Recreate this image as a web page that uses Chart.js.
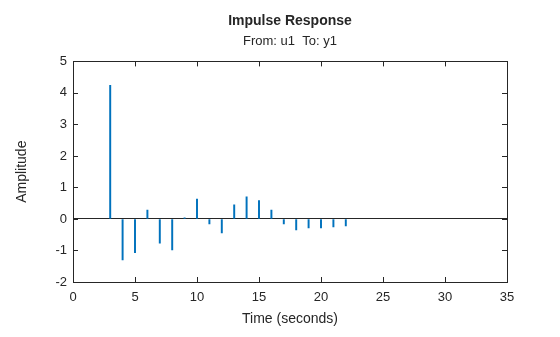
<!DOCTYPE html>
<html>
<head>
<meta charset="utf-8">
<title>Impulse Response</title>
<script src="https://cdn.jsdelivr.net/npm/chart.js@4"></script>
<style>
    html, body { margin: 0; padding: 0; background: #fff; }
    #wrap { width: 560px; height: 337px; }
</style>
</head>
<body>
<div id="wrap"><canvas id="impulse-chart"></canvas></div>
<script>
// ============================================
// DATA
// ============================================

const sampleTimes = [3, 4, 5, 6, 7, 8, 9, 10, 11, 12, 13, 14, 15, 16, 17, 18, 19, 20, 21, 22];
const amplitudes = [4.24, -1.30, -1.07, 0.28, -0.77, -0.98, 0.04, 0.63, -0.16, -0.44,
                    0.45, 0.70, 0.58, 0.28, -0.16, -0.35, -0.28, -0.28, -0.25, -0.22];

const xTicks = [0, 5, 10, 15, 20, 25, 30, 35];
const yTicks = [-2, -1, 0, 1, 2, 3, 4, 5];

const AXIS_COLOR = '#262626';
const STEM_COLOR = '#0072bd';
const FONT = '"Liberation Sans", Arial, sans-serif';

// ============================================
// PLUGINS
// ============================================

// center title + subtitle over the plot area instead of the whole canvas
const centerTitles = {
    id: 'centerTitles',
    afterLayout(chart) {
        const a = chart.chartArea;
        chart.boxes.forEach(b => {
            if (b.position === 'top' && b.options && b.options.text !== undefined) {
                b.left = a.left;
                b.right = a.right;
            }
        });
    }
};

// box around the plot area with inward tick marks on all four sides
const axesBox = {
    id: 'axesBox',
    afterDatasetsDraw(chart) {
        const { ctx, chartArea: a, scales } = chart;
        const len = 5;
        ctx.save();
        ctx.strokeStyle = AXIS_COLOR;
        ctx.lineWidth = 1;
        ctx.beginPath();
        xTicks.forEach(v => {
            const px = Math.round(scales.x.getPixelForValue(v)) + 0.5;
            ctx.moveTo(px, a.bottom); ctx.lineTo(px, a.bottom - len);
            ctx.moveTo(px, a.top); ctx.lineTo(px, a.top + len);
        });
        yTicks.forEach(v => {
            const py = Math.round(scales.y.getPixelForValue(v)) + 0.5;
            ctx.moveTo(a.left, py); ctx.lineTo(a.left + len, py);
            ctx.moveTo(a.right, py); ctx.lineTo(a.right - len, py);
        });
        ctx.stroke();
        ctx.strokeRect(Math.round(a.left) + 0.5, Math.round(a.top) + 0.5,
            Math.round(a.right - a.left), Math.round(a.bottom - a.top));
        ctx.restore();
    }
};

// ============================================
// CHART
// ============================================

new Chart(document.getElementById('impulse-chart'), {
    type: 'bar',
    data: {
        datasets: [{
            data: sampleTimes.map((t, i) => ({ x: t, y: amplitudes[i] })),
            backgroundColor: STEM_COLOR,
            borderWidth: 0,
            barThickness: 1.3
        }]
    },
    options: {
        responsive: true,
        maintainAspectRatio: false,
        animation: false,
        events: [],
        layout: { padding: { left: 0, right: 53, top: 0, bottom: 0 } },
        plugins: {
            legend: { display: false },
            tooltip: { enabled: false },
            title: {
                display: true,
                text: 'Impulse Response',
                color: AXIS_COLOR,
                font: { family: FONT, size: 14, weight: 'bold' },
                padding: { top: 13, bottom: 4 }
            },
            subtitle: {
                display: true,
                text: 'From: u1  To: y1',
                color: AXIS_COLOR,
                font: { family: FONT, size: 13 },
                padding: { top: 0, bottom: 12 }
            }
        },
        scales: {
            x: {
                type: 'linear',
                min: 0,
                max: 35,
                offset: false,
                afterBuildTicks: s => { s.ticks = xTicks.map(v => ({ value: v })); },
                afterFit: s => { s.height = 55; },
                grid: { display: false, drawTicks: false },
                border: { display: false },
                ticks: { color: AXIS_COLOR, padding: 8, font: { family: FONT, size: 13 } },
                title: {
                    display: true,
                    text: 'Time (seconds)',
                    color: AXIS_COLOR,
                    font: { family: FONT, size: 14 },
                    padding: { top: 4, bottom: 9 }
                }
            },
            y: {
                min: -2,
                max: 5,
                afterBuildTicks: s => { s.ticks = yTicks.map(v => ({ value: v })); },
                afterFit: s => { s.width = 73; },
                grid: {
                    drawTicks: false,
                    color: c => c.tick && c.tick.value === 0 ? AXIS_COLOR : 'transparent',
                    lineWidth: 1
                },
                border: { display: false },
                ticks: { color: AXIS_COLOR, padding: 6, font: { family: FONT, size: 13 } },
                title: {
                    display: true,
                    text: 'Amplitude',
                    color: AXIS_COLOR,
                    font: { family: FONT, size: 14 },
                    padding: { top: 14, bottom: 4 }
                }
            }
        }
    },
    plugins: [centerTitles, axesBox]
});
</script>
</body>
</html>
